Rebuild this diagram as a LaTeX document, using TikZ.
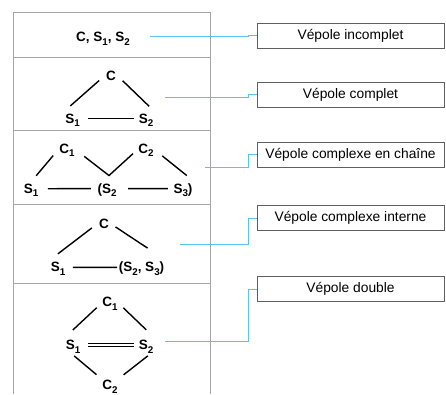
\documentclass[tikz,border=0pt]{standalone}
\usepackage{fontspec}
\setmainfont{Liberation Sans}
\usetikzlibrary{calc}

\definecolor{linkblue}{RGB}{88,196,238}
\definecolor{framegray}{RGB}{165,165,165}
\definecolor{boxgray}{RGB}{95,95,95}
\newcommand{\low}[1]{\raisebox{-0.55ex}{\fontsize{9.8}{10}\selectfont #1}}

\begin{document}
\begin{tikzpicture}[x=1pt, y=-1pt,
  term/.style={anchor=base, inner sep=1.5pt, font=\fontsize{13.5}{15}\selectfont\bfseries},
  bond/.style={line width=1.4pt},
  kind/.style={draw=boxgray, line width=0.7pt, minimum width=187pt, minimum height=25pt, inner sep=0pt, font=\fontsize{13.8}{16}\selectfont},
  link/.style={draw=linkblue, line width=0.8pt}]
 \useasboundingbox (0,0) rectangle (446,394);

 % Left column - frame
 \draw[framegray, line width=0.8pt] (13,394) -- (13,12) -- (210,12) -- (210,394);
 \foreach \y in {57,130,204,283}
  \draw[framegray, line width=0.8pt] (13,\y) -- (210,\y);

 % Row 1 - incomplete
 \node[term] (c1) at (103,41.5) {C, S\low{1}, S\low{2}};

 % Row 2 - complete
 \node[term] (c2) at (111,80.5) {C};
 \node[term] (s21) at (72.5,123) {S\low{1}};
 \node[term] (s22) at (146,123) {S\low{2}};
 \draw[bond, shorten <=7pt, shorten >=9pt] (c2.west) -- (s21.north west);
 \draw[bond, shorten <=7pt, shorten >=8pt] (c2.east) -- (s22.north east);
 \draw[bond, shorten <=6.5pt, shorten >=3.5pt] ([yshift=2pt]s21.east) -- ([yshift=2pt]s22.west);

 % Row 3 - chain
 \node[term] (c31) at (67,153) {C\low{1}};
 \node[term] (c32) at (146,153) {C\low{2}};
 \node[term] (s31) at (31,193) {S\low{1}};
 \node[term] (s32) at (107,193) {(S\low{2}};
 \node[term] (s33) at (183,193) {S\low{3})};
 \draw[bond, shorten <=7pt, shorten >=8pt] (c31.west) -- (s31.north);
 \draw[bond, shorten <=10pt, shorten >=5pt] (c31.east) -- ([xshift=2pt,yshift=6pt]s32.north) -- (c32.west);
 \draw[bond, shorten <=9pt, shorten >=9.5pt] (c32.east) -- (s33.north east);
 \draw[bond, shorten <=8pt, shorten >=5pt] ([yshift=1.5pt]s31.east) -- ([yshift=1.5pt]s32.west);
 \draw[bond, shorten <=10pt, shorten >=4pt] ([yshift=1.5pt]s32.east) -- ([yshift=1.5pt]s33.west);

 % Row 4 - internal
 \node[term] (c4) at (104,228.3) {C};
 \node[term] (s41) at (58,271.7) {S\low{1}};
 \node[term] (s42) at (141.5,271.7) {(S\low{2}, S\low{3})};
 \draw[bond, shorten <=7pt, shorten >=11pt] (c4.west) -- (s41.north west);
 \draw[bond, shorten <=6pt, shorten >=22pt] (c4.east) -- (s42.north east);
 \draw[bond, shorten <=6pt] ([yshift=1.5pt]s41.east) -- ([yshift=1.5pt]s42.west);

 % Row 5 - double
 \node[term] (c51) at (110,306.7) {C\low{1}};
 \node[term] (s51) at (73,349.3) {S\low{1}};
 \node[term] (s52) at (146,349.3) {S\low{2}};
 \node[term] (c52) at (110,389.3) {C\low{2}};
 \draw[bond, shorten <=5.5pt, shorten >=12pt] (c51.west) -- (s51.north west);
 \draw[bond, shorten <=5.5pt, shorten >=12pt] (c51.east) -- (s52.north east);
 \draw[bond, shorten <=1.5pt, shorten >=5.5pt] (s51.south) -- (c52.north west);
 \draw[bond, shorten <=1.5pt, shorten >=5.5pt] ([xshift=3pt]s52.south) -- (c52.north east);
 \draw[bond, double, line width=1.3pt, double distance=2pt, shorten <=6.5pt, shorten >=3.5pt] ([yshift=1.5pt]s51.east) -- ([yshift=1.5pt]s52.west);

 % Right column - names
 \node[kind] (k1) at (350.5,35.5) {Vépole incomplet};
 \node[kind] (k2) at (350.5,94.5) {Vépole complet};
 \node[kind] (k3) at (350.5,154.5) {Vépole complexe en chaîne};
 \node[kind] (k4) at (350.5,218) {Vépole complexe interne};
 \node[kind] (k5) at (350.5,289) {Vépole double};

 % Blue leaders
 \coordinate (bend) at (248,0);
 \coordinate (p1) at (150,36);
 \coordinate (p2) at (165,97);
 \coordinate (p3) at (205,167);
 \coordinate (p4) at (180,244);
 \coordinate (p5) at (165,341);
 \foreach \i in {1,...,5}
  \draw[link] (p\i) -- (p\i -| bend) |- (k\i.west);
\end{tikzpicture}
\end{document}
